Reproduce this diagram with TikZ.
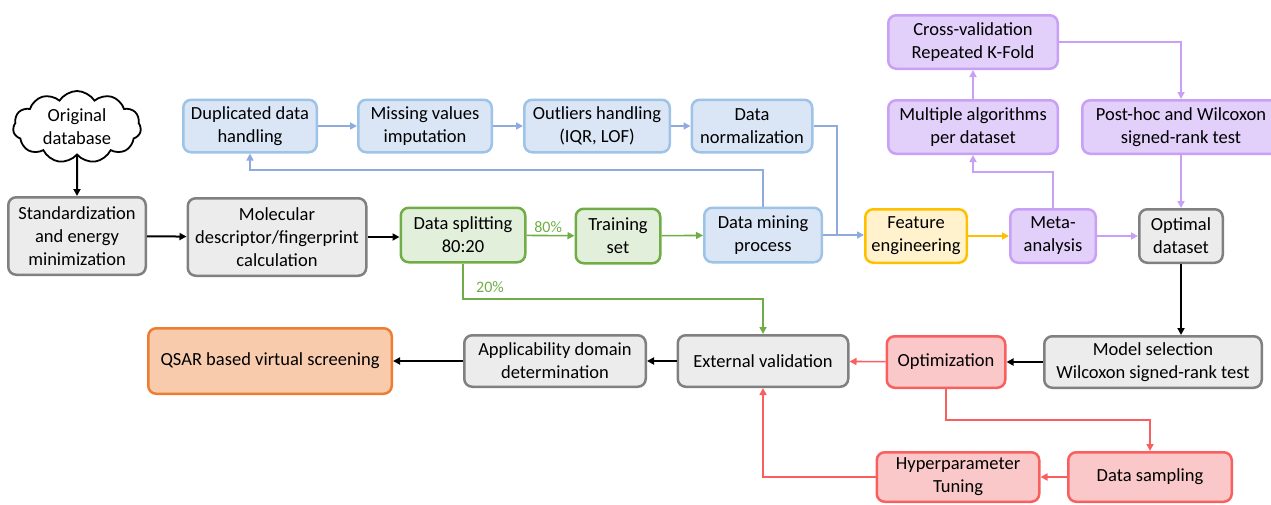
\documentclass[tikz,border=0pt]{standalone}
\usepackage{fontspec}
\setmainfont{Carlito}
\usetikzlibrary{arrows.meta,shapes.symbols}
\definecolor{grayfill}{RGB}{236,236,236}
\definecolor{graydraw}{RGB}{128,128,128}
\definecolor{greenfill}{RGB}{226,239,218}
\definecolor{greendraw}{RGB}{112,173,71}
\definecolor{bluefill}{RGB}{218,230,245}
\definecolor{bluedraw}{RGB}{157,195,230}
\definecolor{bluearrow}{RGB}{143,170,220}
\definecolor{yellowfill}{RGB}{255,242,204}
\definecolor{yellowdraw}{RGB}{255,192,0}
\definecolor{purplefill}{RGB}{226,207,250}
\definecolor{purpledraw}{RGB}{200,160,245}
\definecolor{redfill}{RGB}{250,200,200}
\definecolor{reddraw}{RGB}{250,95,95}
\definecolor{orangefill}{RGB}{248,203,173}
\definecolor{orangedraw}{RGB}{237,125,49}
\tikzset{
  box/.style={rounded corners=8pt, line width=2.5pt, align=center, inner sep=1pt,
    font=\fontsize{18.5}{23}\selectfont},
  graybox/.style={box, draw=graydraw, fill=grayfill},
  greenbox/.style={box, draw=greendraw, fill=greenfill},
  bluebox/.style={box, draw=bluedraw, fill=bluefill},
  yellowbox/.style={box, draw=yellowdraw, fill=yellowfill},
  purplebox/.style={box, draw=purpledraw, fill=purplefill},
  redbox/.style={box, draw=reddraw, fill=redfill},
  orangebox/.style={box, draw=orangedraw, fill=orangefill},
  sz/.style 2 args={minimum width=#1-2.5pt, minimum height=#2-2.5pt},
  tip/.style={-{Triangle[length=7pt,width=7pt]}},
  blk/.style={tip, line width=2pt, draw=black},
  grn/.style={tip, line width=1.6pt, draw=greendraw, -{Triangle[length=7pt,width=7pt,fill=greendraw]}},
  blu/.style={tip, line width=1.6pt, draw=bluearrow, -{Triangle[length=7pt,width=7pt,fill=bluearrow]}},
  ylw/.style={tip, line width=1.6pt, draw=yellowdraw, -{Triangle[length=7pt,width=7pt,fill=yellowdraw]}},
  prp/.style={tip, line width=1.6pt, draw=purpledraw, -{Triangle[length=7pt,width=7pt,fill=purpledraw]}},
  rd/.style={tip, line width=1.6pt, draw=reddraw, -{Triangle[length=7pt,width=7pt,fill=reddraw]}},
  pct/.style={text=greendraw, font=\fontsize{16}{18}\selectfont, inner sep=1pt},
}
\begin{document}
\begin{tikzpicture}[x=1pt,y=-1pt]
\useasboundingbox (0,0) rectangle (1271,504);
% cloud
\node[cloud, cloud puffs=11, cloud puff arc=115, aspect=1.75, draw, line width=1.8pt,
  minimum width=128pt, minimum height=72pt, inner sep=0pt, align=center,
  font=\fontsize{18.5}{23}\selectfont] (db) at (77,127) {Original\\database};
% main row
\node[graybox, sz={140}{80}] (std) at (77,236) {Standardization\\and energy\\minimization};
\node[graybox, sz={181}{80}] (mol) at (277,237) {Molecular\\descriptor/fingerprint\\calculation};
\node[greenbox, sz={127}{57}] (split) at (463,235) {Data splitting\\80:20};
\node[greenbox, sz={87}{57}] (train) at (618,236) {Training\\set};
\node[bluebox, sz={120}{57}] (mine) at (763,235) {Data mining\\process};
\node[yellowbox, sz={104}{56}] (feat) at (916,236) {Feature\\engineering};
\node[purplebox, sz={88}{56}] (meta) at (1053,236) {Meta-\\analysis};
\node[graybox, sz={86}{56}] (opt) at (1181,236) {Optimal\\dataset};
% preprocessing row
\node[bluebox, sz={136}{55}] (dup) at (250,126) {Duplicated data\\handling};
\node[bluebox, sz={136}{55}] (miss) at (425,126) {Missing values\\imputation};
\node[bluebox, sz={148}{55}] (out) at (597,126) {Outliers handling\\(IQR, LOF)};
\node[bluebox, sz={123}{55}] (norm) at (752,126) {Data\\normalization};
% purple upper
\node[purplebox, sz={172}{56}] (multi) at (973,127) {Multiple algorithms\\per dataset};
\node[purplebox, sz={172}{56}] (cross) at (973,42) {Cross-validation\\Repeated K-Fold};
\node[purplebox, sz={200}{56}] (post) at (1181,127) {Post-hoc and Wilcoxon\\signed-rank test};
% bottom rows
\node[graybox, sz={220}{54}] (model) at (1153,362) {Model selection\\Wilcoxon signed-rank test};
\node[redbox, sz={121}{54}] (optim) at (946,362) {Optimization};
\node[graybox, sz={173}{54}] (ext) at (763,361) {External validation};
\node[graybox, sz={184}{54}] (appl) at (555,361) {Applicability domain\\determination};
\node[orangebox, sz={246}{68}] (qsar) at (270,361) {QSAR based virtual screening};
\node[redbox, sz={165}{52}] (hyper) at (958,477) {Hyperparameter\\Tuning};
\node[redbox, sz={166}{52}] (samp) at (1150,477) {Data sampling};
% junction coordinates
\coordinate (jn) at (837,235);
% black connectors
\draw[blk] (db) -- (std);
\draw[blk] (std) -- (mol);
\draw[blk] (mol.east) -- (split.west |- mol.east);
\draw[blk] (opt.south) -- (opt.south |- model.north);
\draw[blk] (model) -- (optim);
\draw[blk] (ext) -- (appl);
\draw[blk] (appl) -- (qsar);
% green
\draw[grn] (split) -- node[pct, above=1pt, pos=0.45] {80\%} (train);
\draw[grn] (train) -- (mine);
\draw[grn] (split.south) -- (split.south |- 0,299) -| (ext.north);
\node[pct] (p20) at (490,287) {20\%};
% blue
\draw[blu] (dup) -- (miss);
\draw[blu] (miss) -- (out);
\draw[blu] (out) -- (norm);
\draw[blu] (mine.north) -- (mine.north |- 0,170) -| (dup.south);
\draw[line width=1.6pt, draw=bluearrow] (norm.east) -| (jn);
\draw[blu] (mine.east) -- (feat.west |- mine.east);
% yellow / purple
\draw[ylw] (feat) -- (meta);
\draw[prp] (meta) -- (opt);
\draw[prp] (meta.north) -- (meta.north |- 0,172) -| (multi.south);
\draw[prp] (multi) -- (cross);
\draw[prp] (cross.east) -| (post.north);
\draw[prp] (post) -- (opt);
% red
\draw[rd] (optim) -- (ext);
\draw[rd] (optim.south) -- (optim.south |- 0,420) -| (samp.north);
\draw[rd] (samp) -- (hyper);
\draw[rd] (hyper.west) -| (ext.south);
\end{tikzpicture}
\end{document}
